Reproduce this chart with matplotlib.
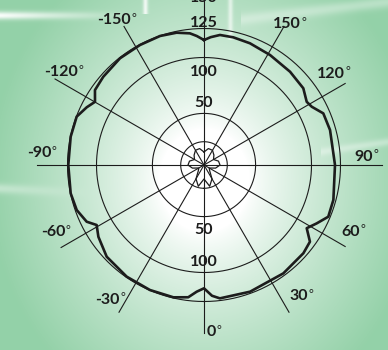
import numpy as np
import matplotlib
matplotlib.use("Agg")
import matplotlib.pyplot as plt

# ---------------- data ----------------
# main polar pattern: angle (deg, 0 = bottom, counter-clockwise) and radius (px units of the chart)
main_theta = [-180, -176.8, -173.9, -168.3, -161.2, -151.9, -141.8, -131.2, -124.5, -120.1,
              -116.2, -110.8, -102, -90, -78, -70.5, -64.2, -60.8, -55.8, -46.7,
              -34.7, -23.4, -13, -6.8, -3.3, 0, 3.5, 6.8, 20, 36.2,
              48.4, 54.1, 58.4, 62.6, 67.4, 74.9, 90, 105.5, 113.4, 118.4,
              121.6, 127.7, 137.3, 149, 159.3, 167.1, 173, 177, 180]
main_r = [125, 129.2, 132.4, 135.1, 136.3, 136, 135.8, 133.9, 132.3, 126,
          130.7, 136.2, 136.3, 135.7, 136.3, 135, 130.3, 123, 127.7, 133.7,
          135.8, 136.2, 135.8, 133.2, 126.9, 123.3, 131, 134.3, 134.8, 134.3,
          132.9, 130.8, 120.6, 126.9, 134.6, 134, 131, 130.8, 130, 122.5,
          120.6, 125.5, 126.9, 128.3, 130.1, 131, 131, 128, 125]

# small inner pattern
inner_theta = [-180, -165, -150, -135, -120, -105, -90, -75, -60, -45, -30, -15, 0,
               15, 30, 45, 60, 75, 90, 105, 120, 135, 150, 165, 180]
inner_r = [13, 17, 17, 14, 11, 15, 16, 12, 6, 8, 16, 22, 14,
           22, 16, 8, 6, 12, 16, 15, 11, 14, 17, 17, 13]

ring_r = [23.3, 51.6, 107.5, 136.5]
spoke_angles = [0, 30, 60, 90, 120, 150, 180, -150, -120, -90, -60, -30]
spoke_len = [168, 170, 163, 178, 163, 160, 190, 160, 172, 167, 165, 170]

radial_labels = ["50", "100", "125", "150", "50", "100"]
radial_label_theta = [180, 180, 180, 180, 0, 0]
radial_label_r = [62, 93, 142, 167, 65, 97]

angle_label_text = ["-150", "150", "-120", "120", "-90", "90", "-60", "60", "-30", "30", "0"]
angle_label_px = [(131, 19), (301, 23), (78, 71), (345, 72), (51, 152), (373, 155),
                  (65, 231), (360, 230), (120, 298), (308, 295), (216, 331)]

# ---------------- figure ----------------
W, H = 388, 350
fig = plt.figure(figsize=(W / 100, H / 100), dpi=100)

# background gradient
yy, xx = np.mgrid[0:H, 0:W].astype(float)
dx = xx - 204
dy = yy - 180
d = np.sqrt(dx ** 2 + (dy / 1.15) ** 2)
t = np.clip((d - 45) / 170, 0, 1) ** 0.8
green = np.array([0.58, 0.82, 0.66])
img = (1 - t)[..., None] * np.ones(3) + t[..., None] * green
# light streaks
streaks = []
streaks.append(np.exp(-((yy - 15) / 4.0) ** 2) * np.clip(1 - xx / 135, 0, 1) * 0.95)
streaks.append(np.exp(-((xx - 145) / 2.5) ** 2) * (yy < 14) * 0.8)
streaks.append(np.exp(-((xx - 230) / 2.5) ** 2) * (yy < 40) * 0.6)
streaks.append(np.exp(-((yy - (18 - 0.12 * (xx - 250))) / 6.0) ** 2) * (xx > 240) * 0.35)
streaks.append(np.exp(-((yy - (150 - 0.15 * (xx - 330))) / 4.0) ** 2) * (xx > 320) * 0.35)
streaks.append(np.exp(-((yy - (188 + 0.05 * xx)) / 5.0) ** 2) * np.clip(1 - xx / 90, 0, 1) * 0.4)
for s in streaks:
    img = img + s[..., None] * (1 - img)
bg = fig.add_axes([0, 0, 1, 1])
bg.imshow(img, extent=[0, W, H, 0], aspect="auto", interpolation="bilinear")
bg.set_axis_off()

# polar axes: center (204,165) px, radius 140 px
R = 140
cx, cy = 204, 165
ax = fig.add_axes([(cx - R) / W, (H - cy - R) / H, 2 * R / W, 2 * R / H], projection="polar")
ax.set_theta_zero_location("S")
ax.set_theta_direction(1)
ax.set_ylim(0, R)
ax.set_axis_off()

ink = "#1c1c1c"
full = np.linspace(0, 2 * np.pi, 721)
for r in ring_r:
    ax.plot(full, np.full_like(full, r), color=ink, lw=0.8, clip_on=False)
for a, L in zip(spoke_angles, spoke_len):
    ax.plot([np.radians(a), np.radians(a)], [0, L], color=ink, lw=0.8, clip_on=False)

ax.plot(np.radians(main_theta), main_r, color=ink, lw=1.9, clip_on=False, solid_joinstyle="round")
ax.plot(np.radians(inner_theta), inner_r, color=ink, lw=0.9, clip_on=False)

font = "Lato"
fs = 11.5
for txt, th, r in zip(radial_labels, radial_label_theta, radial_label_r):
    ax.text(np.radians(th), r, txt, ha="center", va="center", fontsize=fs,
            fontweight="bold", family=font, color=ink, clip_on=False)

for txt, (px, py) in zip(angle_label_text, angle_label_px):
    fig.text(px / W, 1 - (py + 5.5) / H, txt, ha="right", va="baseline", fontsize=fs,
             fontweight="bold", family=font, color=ink)
    fig.text((px + 0.5) / W, 1 - (py + 3) / H, "°", ha="left", va="baseline", fontsize=8.5,
             family=font, color=ink)

fig.savefig("out.png", dpi=100)
